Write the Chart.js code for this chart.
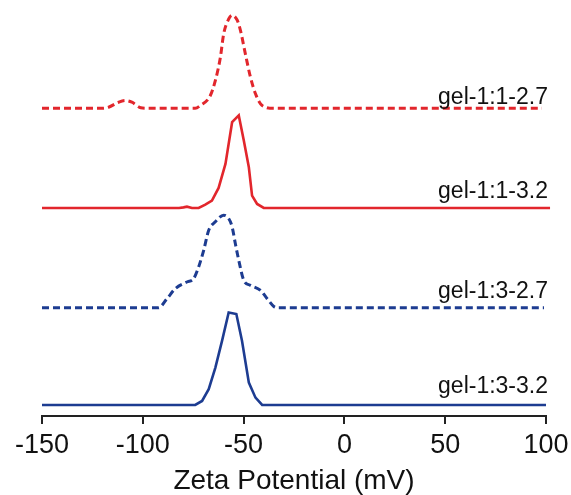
<!DOCTYPE html>
<html>
<head>
<meta charset="utf-8">
<script src="https://cdn.jsdelivr.net/npm/chart.js@4.4.1/dist/chart.umd.min.js"></script>
<style>
    html, body { margin: 0; padding: 0; background: #fff; }
    #wrap { width: 571px; height: 495px; }
</style>
</head>
<body>
<div id="wrap"><canvas id="zetaChart"></canvas></div>
<script>
// --- DONNÉES ---
// potentiels zêta (mV) et intensités relatives de chaque échantillon
const xTicks = [-150, -100, -50, 0, 50, 100];

const redDashX = [-150, -120, -117, -112, -108.7, -105.4, -101, -98, -74, -71.5, -66.5, -64, -61.5, -59.9, -57.4, -55.7, -53.2, -51.6, -49.1, -46.6, -44.1, -41.6, -39.2, -37, 98];
const redDashY = [0, 0, 1, 6, 7.7, 6, 0.5, 0, 0, 2.7, 12.7, 27.7, 51, 74, 89, 92.7, 88, 78, 54, 31, 14.4, 4.4, 1, 0, 0];

const redSolidX = [-150, -82, -79.8, -78.1, -75.6, -72.3, -69, -65.7, -62.4, -59, -55.7, -52.4, -49.9, -47.4, -45.8, -43.3, -40, 102];
const redSolidY = [0, 0, 0.6, 1.3, 0, 0, 3.3, 7.3, 20, 44, 85.6, 92.3, 67.3, 40.6, 12.3, 4, 0, 0];

const blueDashX = [-150, -92.2, -88, -83.9, -78.1, -74.8, -72.3, -69.8, -67.3, -64, -59.9, -57.4, -55.7, -54.1, -52.4, -49.9, -46.6, -41.6, -38.3, -35, -32.6, 99];
const blueDashY = [0, 0, 9, 19, 25.7, 29, 40.7, 57.3, 77.3, 85.7, 92.3, 89, 80.7, 64, 47.3, 27.3, 22.3, 17.3, 9, 1.3, 0, 0];

const blueSolidX = [-150, -74, -70.6, -67.3, -64, -60.7, -57.4, -53.6, -50.8, -47.4, -44.1, -40.8, 100];
const blueSolidY = [0, 0, 4, 15.7, 37.3, 64, 92.3, 90.7, 64, 22.3, 7.3, 0, 0];

const labels = ["gel-1:1-2.7", "gel-1:1-3.2", "gel-1:3-2.7", "gel-1:3-3.2"];
const offsets = [307, 207.5, 108, 11];

const RED = "#e2262c";
const BLUE = "#1d3c91";
const FONT = "'Liberation Sans', Arial, sans-serif";

function pts(xs, ys, off) {
    return xs.map((x, i) => ({ x: x, y: ys[i] + off }));
}

function serie(label, xs, ys, off, color, dashed) {
    return {
        label: label,
        data: pts(xs, ys, off),
        borderColor: color,
        borderWidth: dashed ? 3 : 2.6,
        borderDash: dashed ? [7, 4] : [],
        pointRadius: 0,
        tension: dashed ? 0.4 : 0,
        cubicInterpolationMode: dashed ? "monotone" : "default",
        fill: false,
        clip: false
    };
}

// étiquettes au-dessus de chaque ligne de base, alignées à droite
const labelGap = [4, 10, 10, 12];
const curveLabels = {
    id: "curveLabels",
    afterDatasetsDraw(chart) {
        const { ctx, scales } = chart;
        ctx.save();
        ctx.font = "23px " + FONT;
        ctx.fillStyle = "#111";
        ctx.textAlign = "right";
        ctx.textBaseline = "alphabetic";
        labels.forEach((txt, i) => {
            const x = scales.x.getPixelForValue(100) + 2;
            const y = scales.y.getPixelForValue(offsets[i]) - labelGap[i];
            ctx.fillText(txt, x, y);
        });
        ctx.restore();
    }
};

document.addEventListener("DOMContentLoaded", () => {
    const ctx = document.getElementById("zetaChart").getContext("2d");
    new Chart(ctx, {
        type: "line",
        data: {
            datasets: [
                serie(labels[0], redDashX, redDashY, offsets[0], RED, true),
                serie(labels[1], redSolidX, redSolidY, offsets[1], RED, false),
                serie(labels[2], blueDashX, blueDashY, offsets[2], BLUE, true),
                serie(labels[3], blueSolidX, blueSolidY, offsets[3], BLUE, false)
            ]
        },
        options: {
            responsive: true,
            maintainAspectRatio: false,
            animation: false,
            layout: { padding: { left: 42, right: 25, top: 10, bottom: 0 } },
            plugins: {
                legend: { display: false },
                tooltip: { enabled: false }
            },
            scales: {
                x: {
                    type: "linear",
                    min: -150,
                    max: 100,
                    afterBuildTicks: (axis) => { axis.ticks = xTicks.map(v => ({ value: v })); },
                    // les marges latérales sont fixées par layout.padding
                    afterFit: (axis) => { axis.paddingLeft = 0; axis.paddingRight = 0; },
                    ticks: {
                        color: "#111",
                        padding: 8,
                        maxRotation: 0,
                        font: { family: FONT, size: 27, lineHeight: 1 }
                    },
                    grid: {
                        drawOnChartArea: false,
                        drawTicks: true,
                        tickLength: 8,
                        color: "#222",
                        lineWidth: 2
                    },
                    border: { display: true, color: "#222", width: 2 },
                    title: {
                        display: true,
                        text: "Zeta Potential (mV)",
                        color: "#111",
                        padding: { top: 0, bottom: 0 },
                        font: { family: FONT, size: 28, lineHeight: 1 }
                    }
                },
                y: {
                    display: false,
                    min: 0,
                    max: 405
                }
            }
        },
        plugins: [curveLabels]
    });
});
</script>
</body>
</html>
